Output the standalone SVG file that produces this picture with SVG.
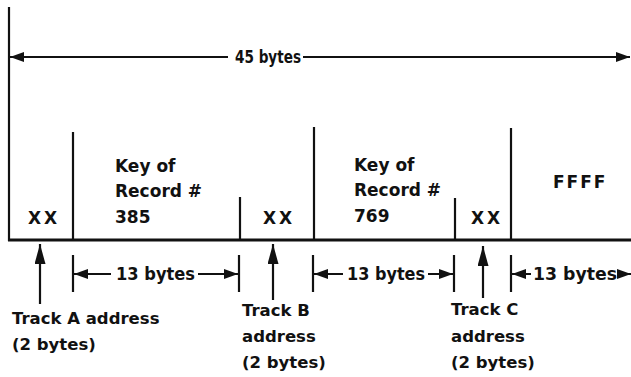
<svg xmlns="http://www.w3.org/2000/svg" width="631" height="377" viewBox="0 0 631 377">
<style>
  .ln { stroke:#111; stroke-width:2.2; fill:none; }
  .base { stroke:#111; stroke-width:3; fill:none; }
  .dim { stroke:#111; stroke-width:2; fill:none; }
  text { font-family:"DejaVu Sans","Liberation Sans",sans-serif; font-size:16.5px; font-weight:bold; fill:#111; }
  .f { font-size:17px; }
  .d { font-size:18px; }
  .sp { letter-spacing:3px; }
</style>
<defs>
  <marker id="ah" markerUnits="userSpaceOnUse" markerWidth="14" markerHeight="10" refX="14" refY="5" orient="auto">
    <path d="M0,0 L14,5 L0,10 z" fill="#111"/>
  </marker>
  <marker id="up" markerUnits="userSpaceOnUse" markerWidth="20" markerHeight="11" refX="20" refY="5.5" orient="auto">
    <path d="M0,0 L20,5.5 L0,11 z" fill="#111"/>
  </marker>
</defs>
<rect width="631" height="377" fill="#fff"/>

<g id="track">
  <line class="ln" x1="9" y1="7" x2="9" y2="241"/>
  <line class="base" x1="8" y1="240" x2="631" y2="240"/>
  <line class="ln" x1="73" y1="132" x2="73" y2="240"/>
  <line class="ln" x1="240" y1="197" x2="240" y2="240"/>
  <line class="ln" x1="314" y1="127" x2="314" y2="240"/>
  <line class="ln" x1="455" y1="198" x2="455" y2="240"/>
  <line class="ln" x1="511" y1="128" x2="511" y2="240"/>
</g>

<g id="field-xx-a"><text class="f sp" x="28" y="224">XX</text></g>
<g id="field-key-385">
  <text class="f" x="115" y="172">Key of</text>
  <text class="f" x="115" y="197">Record #</text>
  <text class="f" x="115" y="223">385</text>
</g>
<g id="field-xx-b"><text class="f sp" x="263" y="224">XX</text></g>
<g id="field-key-769">
  <text class="f" x="354" y="171">Key of</text>
  <text class="f" x="354" y="196">Record #</text>
  <text class="f" x="354" y="222">769</text>
</g>
<g id="field-xx-c"><text class="f sp" x="471" y="224">XX</text></g>
<g id="field-ffff"><text class="f" x="553" y="188" letter-spacing="2">FFFF</text></g>

<g id="connectors">
  <!-- 45 bytes -->
  <line class="dim" x1="228" y1="57" x2="10" y2="57" marker-end="url(#ah)"/>
  <line class="dim" x1="303" y1="57" x2="630" y2="57" marker-end="url(#ah)"/>
  <!-- 13 bytes dims -->
  <line class="ln" x1="73" y1="255" x2="73" y2="292"/>
  <line class="ln" x1="239" y1="255" x2="239" y2="292"/>
  <line class="dim" x1="111" y1="274" x2="74" y2="274" marker-end="url(#ah)"/>
  <line class="dim" x1="198" y1="274" x2="238" y2="274" marker-end="url(#ah)"/>
  <line class="ln" x1="313" y1="255" x2="313" y2="292"/>
  <line class="ln" x1="454" y1="255" x2="454" y2="292"/>
  <line class="dim" x1="343" y1="274" x2="314" y2="274" marker-end="url(#ah)"/>
  <line class="dim" x1="428" y1="274" x2="453" y2="274" marker-end="url(#ah)"/>
  <line class="ln" x1="511" y1="255" x2="511" y2="292"/>
  <line class="dim" x1="531" y1="274" x2="512" y2="274" marker-end="url(#ah)"/>
  <line class="dim" x1="620" y1="274" x2="631" y2="274" marker-end="url(#ah)"/>
  <!-- pointer arrows -->
  <line class="ln" x1="40" y1="304" x2="40" y2="244" marker-end="url(#up)"/>
  <line class="ln" x1="273" y1="300" x2="273" y2="244" marker-end="url(#up)"/>
  <line class="ln" x1="483" y1="298" x2="483" y2="246" marker-end="url(#up)"/>
</g>

<g id="label-45"><text class="d" x="235" y="63" textLength="66" lengthAdjust="spacingAndGlyphs">45 bytes</text></g>
<g id="label-13a"><text class="d" x="116" y="280" textLength="79" lengthAdjust="spacingAndGlyphs">13 bytes</text></g>
<g id="label-13b"><text class="d" x="347" y="280" textLength="78" lengthAdjust="spacingAndGlyphs">13 bytes</text></g>
<g id="label-13c"><text class="d" x="533" y="280" textLength="84" lengthAdjust="spacingAndGlyphs">13 bytes</text></g>

<g id="label-track-a">
  <text x="12" y="324">Track A address</text>
  <text x="12" y="350">(2 bytes)</text>
</g>
<g id="label-track-b">
  <text x="242" y="316">Track B</text>
  <text x="242" y="342">address</text>
  <text x="242" y="368">(2 bytes)</text>
</g>
<g id="label-track-c">
  <text x="451" y="315">Track C</text>
  <text x="451" y="342">address</text>
  <text x="451" y="368">(2 bytes)</text>
</g>
</svg>
